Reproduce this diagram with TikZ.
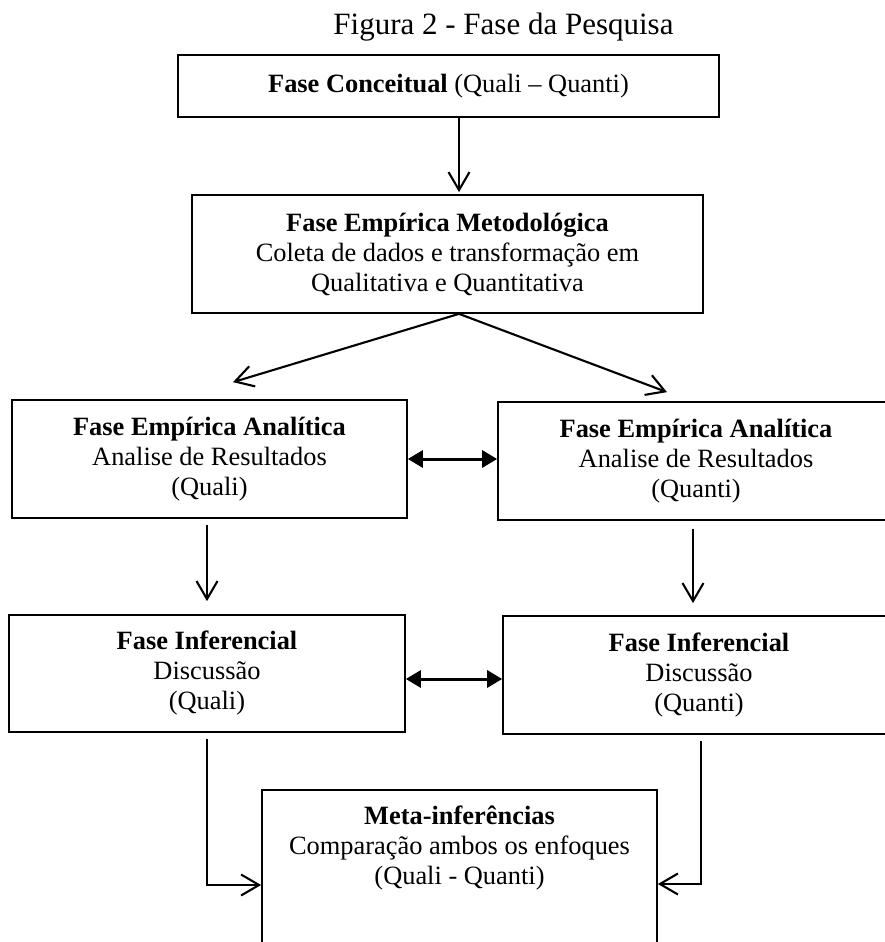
\documentclass[tikz,border=0pt]{standalone}
\usepackage{fontspec}
\setmainfont{Liberation Serif}
\usetikzlibrary{arrows.meta,calc}
\begin{document}
\begin{tikzpicture}[x=1pt,y=-1pt,
  txt/.style={align=center, font=\fontsize{26.4}{30}\selectfont, inner sep=0pt},
  box/.style={txt, draw, line width=1.7pt},
  flow/.style={line width=2.1pt, -{Straight Barb[length=18pt,width=21pt]}},
  link/.style={line width=3pt, {Triangle[length=15pt,width=17pt]}-{Triangle[length=15pt,width=17pt]}}]
\clip (0,0) rectangle (885,942);
\fill[white] (0,0) rectangle (885,942);

% title
\node[font=\fontsize{31}{36}\selectfont, anchor=base, inner sep=0pt] (title) at (503.5,35) {Figura 2 - Fase da Pesquisa};

% phases
\node[box, minimum width=541pt, minimum height=62pt] (conc) at (448.5,86)
  {\textbf{Fase Conceitual} (Quali – Quanti)};
\node[box, minimum width=511pt, minimum height=118pt] (metod) at (447.5,254)
  {\textbf{Fase Empírica Metodológica}\\Coleta de dados e transformação em\\Qualitativa e Quantitativa};
\node[box, minimum width=395pt, minimum height=118pt] (anaL) at (209.5,459)
  {\textbf{Fase Empírica Analítica}\\Analise de Resultados\\(Quali)};
\node[box, minimum width=396pt, minimum height=118pt] (anaR) at (696,461)
  {\textbf{Fase Empírica Analítica}\\Analise de Resultados\\(Quanti)};
\node[box, minimum width=396pt, minimum height=117pt] (infL) at (207,673.5)
  {\textbf{Fase Inferencial}\\Discussão\\(Quali)};
\node[box, minimum width=392pt, minimum height=118pt] (infR) at (699,675)
  {\textbf{Fase Inferencial}\\Discussão\\(Quanti)};
\node[box, minimum width=395pt, minimum height=200pt, anchor=north] (meta) at (459.5,789) {};
\node[txt] (metatext) at (459.5,848)
  {\textbf{Meta-inferências}\\Comparação ambos os enfoques\\(Quali - Quanti)};

% connectors
\draw[flow] ([xshift=10.5pt]conc.south) -- ([xshift=11.5pt,yshift=2pt]metod.north);
\coordinate (fork) at ([xshift=11.5pt]metod.south);
\draw[flow] (fork) -- ([xshift=23.5pt,yshift=17pt]anaL.north);
\draw[flow] (fork) -- ([xshift=-29pt,yshift=9pt]anaR.north);
\draw[link] (anaL.east) -- (anaL.east -| anaR.west);
\draw[flow] ([xshift=-2.5pt,yshift=-6pt]anaL.south) -- ([yshift=13pt]infL.north);
\draw[flow] ([xshift=-3pt,yshift=-8pt]anaR.south) -- ([xshift=-6pt,yshift=12pt]infR.north);
\draw[link] ([yshift=-5.5pt]infL.east) -- ([yshift=-5.5pt]infL.east -| infR.west);
\draw[flow] ([yshift=-6pt]infL.south) |- ([yshift=-96pt]meta.north west);
\draw[flow] ([xshift=2pt,yshift=-6pt]infR.south) |- ([yshift=-95pt]meta.north east);
\end{tikzpicture}
\end{document}
